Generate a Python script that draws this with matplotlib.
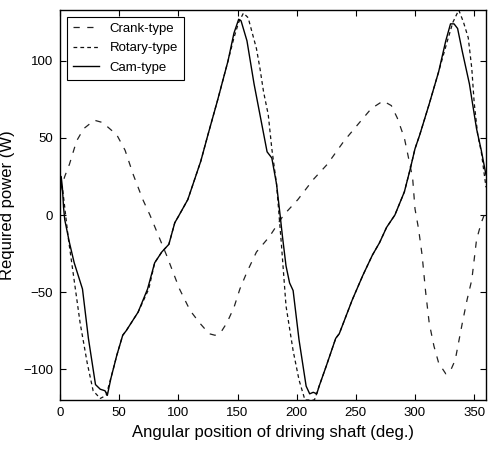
import matplotlib
matplotlib.use('Agg')
from matplotlib import pyplot as plt

# Crank-type (dash)
crank_x = [0, 4, 8, 14, 20, 29, 36, 48, 55, 62, 70, 76, 83, 90, 101, 110, 118, 126, 131, 136,
           141, 147, 152, 158, 166, 177, 189, 201, 206, 214, 226, 240, 252, 263, 273, 280, 285,
           291, 294, 298, 300, 303, 306, 309, 312, 316, 320, 326, 330, 334, 340, 344, 348, 352,
           356, 360]
crank_y = [15, 25, 33, 48, 56, 61.5, 60, 52, 42, 26, 10, 0, -13, -26, -48, -62, -70, -77, -78, -76,
           -70, -60, -48, -37, -24, -14, 0, 10, 15, 23, 33, 48, 59, 69, 74, 71, 63,
           50, 39, 24, 4, -9, -26, -50, -70, -85, -96, -103, -101, -94, -70, -55, -42, -16,
           -5, 3]

# Rotary-type (short dash)
rot_x = [0, 2, 4, 7, 11, 17, 23, 28, 34, 39, 45, 48, 53, 56, 66, 75, 80, 86, 92, 97, 100, 108,
         119, 125, 133, 142, 147, 151, 155, 159, 166, 169, 172, 176, 179, 183, 187, 191, 197,
         202, 207, 211, 215, 219, 225, 233, 236, 242, 247, 256, 264, 270, 276, 283, 291, 296,
         300, 304, 312, 320, 327, 332, 337, 341, 345, 348, 350, 353, 356, 360]
rot_y = [20, 18, 5, -15, -37, -70, -96, -114, -119, -117, -100, -91, -78, -75, -63, -48, -31, -24,
         -19, -5, -1, 10, 35, 52, 74, 100, 115, 125, 131, 128, 108, 95, 80, 65, 43, 20, -18, -59,
         -88, -107, -120, -120, -120, -111, -98, -80, -77, -65, -55, -39, -26, -18, -8, 0, 15,
         30, 43, 52, 72, 93, 112, 125, 133, 125, 115, 95, 73, 52, 41, 18]

# Cam-type (solid)
cam_x = [0, 1, 2, 3, 4, 8, 12, 19, 24, 30, 34, 38, 40, 43, 48, 53, 56, 66, 74, 80, 86, 92, 97,
         100, 108, 119, 125, 133, 142, 147, 151, 153, 158, 164, 170, 175, 179, 183, 186, 188,
         191, 194, 197, 202, 208, 211, 214, 217, 219, 225, 233, 236, 242, 247, 256, 264, 270,
         276, 283, 291, 296, 300, 304, 312, 320, 326, 330, 333, 336, 340, 346, 352, 356, 360]
cam_y = [10, 25, 18, 5, -3, -18, -31, -48, -80, -110, -113, -114, -117, -106, -91, -78, -75, -63,
         -48, -31, -24, -19, -5, -1, 10, 35, 52, 74, 100, 118, 127, 126, 113, 85, 61, 41, 37,
         20, 0, -14, -33, -44, -49, -81, -111, -116, -115, -116, -111, -98, -80, -77, -65, -55,
         -39, -26, -18, -8, 0, 15, 30, 43, 52, 72, 93, 113, 124, 124, 121, 106, 85, 56, 42, 26]

plt.rcParams['font.family'] = ['Liberation Sans', 'DejaVu Sans']

fig = plt.figure(figsize=(4.9, 4.54), dpi=100)
ax = fig.add_axes([60/490, 54/454, 426/490, 390/454])

ax.plot(crank_x, crank_y, color='#222222', lw=0.9, linestyle=(0, (5, 6)), label='Crank-type')
ax.plot(rot_x, rot_y, color='#111111', lw=0.9, linestyle=(0, (3, 2.5)), label='Rotary-type')
ax.plot(cam_x, cam_y, color='black', lw=1.0, linestyle='-', label='Cam-type')

ax.set_xlim(0, 360)
ax.set_ylim(-120, 133)
ax.set_xticks([0, 50, 100, 150, 200, 250, 300, 350])
ax.set_yticks([-100, -50, 0, 50, 100])
ax.tick_params(direction='in', top=True, right=True, length=4, width=0.8, labelsize=9.5, pad=5)
for s in ax.spines.values():
    s.set_linewidth(1.0)

ax.set_xlabel('Angular position of driving shaft (deg.)', fontsize=12, labelpad=4)
ax.set_ylabel('Required power (W)', fontsize=12, labelpad=6)

leg = ax.legend(loc='upper left', fontsize=9.5, handlelength=2.0, fancybox=False,
                framealpha=1, edgecolor='black', borderaxespad=0.5, borderpad=0.45,
                labelspacing=0.55, handletextpad=0.8)
leg.get_frame().set_linewidth(0.8)

plt.savefig('out.png', dpi=100)
